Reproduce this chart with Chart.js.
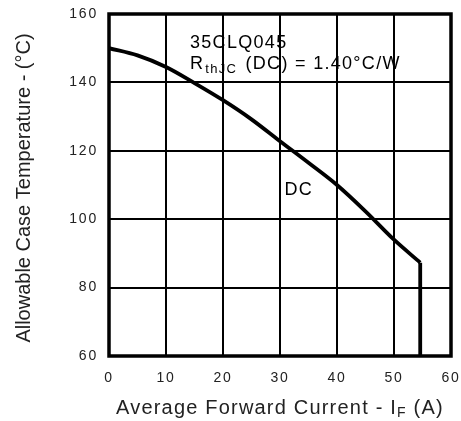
<!DOCTYPE html>
<html>
<head>
<meta charset="utf-8">
<script src="https://cdn.jsdelivr.net/npm/chart.js@4"></script>
<style>
html,body{margin:0;padding:0;background:#fff;}
#wrap{width:461px;height:421px;}
</style>
</head>
<body>
<div id="wrap"><canvas id="c" width="461" height="421"></canvas></div>
<script>
// Data
const currentA = [0, 5, 10, 15, 20, 25, 30, 35, 40, 45, 50, 54.6];
const caseTempC = [150, 147.9, 144.5, 139.8, 134.8, 129.2, 122.8, 116.5, 110, 102.3, 94, 87.3];
const cutoffCurrent = [54.6, 54.6];
const cutoffTemp = [87.3, 60];
const xTicks = [0, 10, 20, 30, 40, 50, 60];
const yTicks = [60, 80, 100, 120, 140, 160];
const xTitleMain = "Average Forward Current - I";
const xTitleSub = "F";
const xTitleEnd = " (A)";
const yTitle = "Allowable Case Temperature - (°C)";
const partLabel = "35CLQ045";
const rthMain = "R";
const rthSub = "thJC";
const rthEnd = " (DC) = 1.40°C/W";
const curveLabel = "DC";
const curveLabelPos = [33.3, 108.5];

const FONT = "'Liberation Sans', Arial, sans-serif";

const curve = currentA.map((x, i) => ({x, y: caseTempC[i]}));
const cutoff = cutoffCurrent.map((x, i) => ({x, y: cutoffTemp[i]}));

const spacingPlugin = {
  id: 'spacing',
  beforeDraw(chart) { chart.ctx.letterSpacing = '1.8px'; }
};

const framePlugin = {
  id: 'frame',
  afterDraw(chart) {
    const {ctx, chartArea: a, scales} = chart;
    ctx.save();
    ctx.strokeStyle = '#000';
    ctx.lineWidth = 3.5;
    ctx.strokeRect(a.left, a.top, a.right - a.left, a.bottom - a.top);
    ctx.fillStyle = '#222';
    ctx.textBaseline = 'alphabetic';
    ctx.textAlign = 'left';
    // x title with subscript
    ctx.letterSpacing = '1.2px';
    ctx.font = '20px ' + FONT;
    const w1 = ctx.measureText(xTitleMain).width;
    ctx.font = '14px ' + FONT;
    const w2 = ctx.measureText(xTitleSub).width;
    ctx.font = '20px ' + FONT;
    let x0 = 116;
    const by = 414;
    ctx.fillText(xTitleMain, x0, by);
    ctx.font = '14px ' + FONT;
    ctx.fillText(xTitleSub, x0 + w1, by + 3);
    ctx.font = '20px ' + FONT;
    ctx.fillText(xTitleEnd, x0 + w1 + w2, by);
    // y title
    ctx.save();
    ctx.translate(24, 188);
    ctx.rotate(-Math.PI / 2);
    ctx.textAlign = 'center';
    ctx.textBaseline = 'middle';
    ctx.font = '20px ' + FONT;
    ctx.letterSpacing = '0px';
    ctx.fillText(yTitle, 0, 0);
    ctx.restore();
    // annotations
    ctx.fillStyle = '#000';
    ctx.letterSpacing = '1.3px';
    ctx.font = '18px ' + FONT;
    ctx.textAlign = 'left';
    ctx.fillText(partLabel, 190, 48);
    ctx.fillText(rthMain, 190, 69);
    const rw = ctx.measureText(rthMain).width;
    ctx.font = '13px ' + FONT;
    ctx.fillText(rthSub, 190 + rw + 1, 73);
    const sw = ctx.measureText(rthSub).width;
    ctx.font = '18px ' + FONT;
    ctx.fillText(rthEnd, 190 + rw + 1 + sw + 2, 69);
    ctx.textAlign = 'center';
    ctx.textBaseline = 'middle';
    ctx.fillText(curveLabel, scales.x.getPixelForValue(curveLabelPos[0]), scales.y.getPixelForValue(curveLabelPos[1]));
    ctx.restore();
  }
};

new Chart(document.getElementById('c'), {
  type: 'scatter',
  data: {
    datasets: [
      {data: curve, showLine: true, borderColor: '#000', borderWidth: 3.8, pointRadius: 0, cubicInterpolationMode: 'monotone', fill: false},
      {data: cutoff, showLine: true, borderColor: '#000', borderWidth: 3.8, pointRadius: 0, fill: false}
    ]
  },
  options: {
    responsive: false,
    animation: false,
    devicePixelRatio: 1,
    layout: {padding: {left: 0, top: 14, right: 10, bottom: 0}},
    plugins: {legend: {display: false}, tooltip: {enabled: false}},
    scales: {
      x: {
        type: 'linear', min: 0, max: 60,
        afterBuildTicks(s) { s.ticks = xTicks.map(v => ({value: v})); },
        afterFit(s) { s.height = 65; s.paddingLeft = 0; s.paddingRight = 0; },
        ticks: {color: '#222', font: {size: 14, family: FONT}, padding: 14, maxRotation: 0},
        grid: {color: '#000', lineWidth: 2, drawTicks: false},
        border: {display: false}
      },
      y: {
        type: 'linear', min: 60, max: 160,
        afterBuildTicks(s) { s.ticks = yTicks.map(v => ({value: v})); },
        afterFit(s) { s.width = 109; s.paddingTop = 0; s.paddingBottom = 0; },
        ticks: {color: '#222', font: {size: 14, family: FONT}, padding: 11},
        grid: {color: '#000', lineWidth: 2, drawTicks: false},
        border: {display: false}
      }
    }
  },
  plugins: [spacingPlugin, framePlugin]
});
</script>
</body>
</html>
